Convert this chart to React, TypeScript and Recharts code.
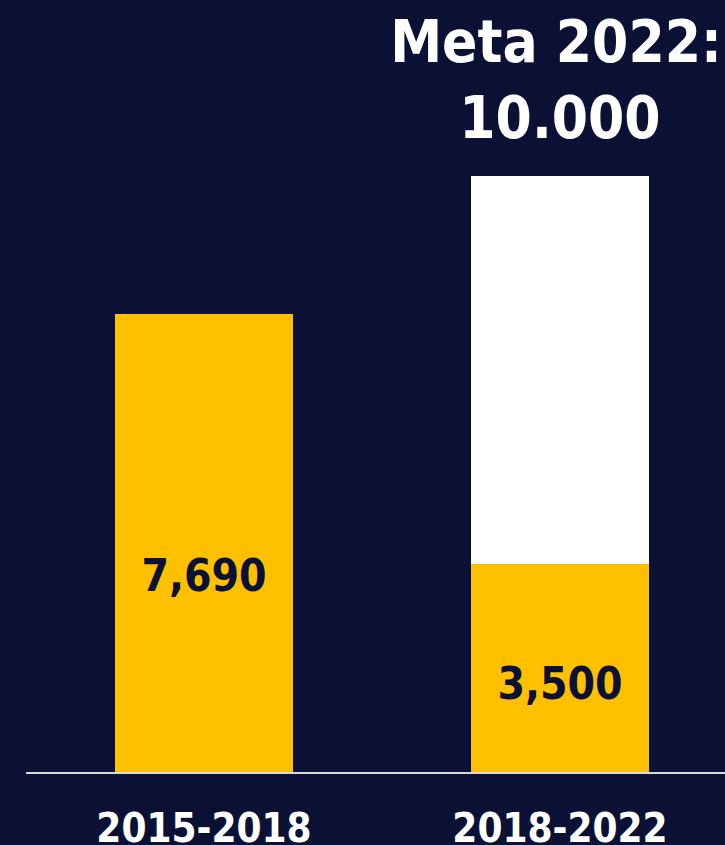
import React from "react";
import { BarChart, Bar, XAxis, YAxis, LabelList } from "recharts";

const categories = ["2015-2018", "2018-2022"];
const achieved = [7690, 3500];
const remaining = [0, 6500];
const goalTitle = ["Meta 2022:", "10.000"];

const BG = "#0a1135";
const YELLOW = "#ffc000";
const FONT = "'DejaVu Sans Condensed', 'DejaVu Sans', sans-serif";

const data = categories.map((c, i) => ({
  period: c,
  achieved: achieved[i],
  remaining: remaining[i],
}));

const fmt = (v: number) => v.toLocaleString("en-US");

// value label sits a bit below the middle of the yellow segment
const ValueLabel = (props: any) => {
  const { x, y, width, height, value } = props;
  if (!value) return null;
  const cy = y + height * 0.57;
  return (
    <text
      x={x + width / 2}
      y={cy}
      textAnchor="middle"
      dominantBaseline="central"
      fill={BG}
      fontFamily={FONT}
      fontWeight="bold"
      fontSize={44}
      style={{ fontStretch: "condensed" }}
    >
      {fmt(value)}
    </text>
  );
};

const GoalLabel = (props: any) => {
  const { x, y, width, value } = props;
  if (!value) return null;
  const cx = x + width / 2 - 4;
  return (
    <text
      textAnchor="middle"
      fill="#ffffff"
      fontFamily={FONT}
      fontWeight="bold"
      fontSize={58}
      style={{ fontStretch: "condensed" }}
    >
      <tspan x={cx} y={y - 114}>{goalTitle[0]}</tspan>
      <tspan x={cx + 4} y={y - 38}>{goalTitle[1]}</tspan>
    </text>
  );
};

export default function App() {
  return (
    <div
      style={{
        position: "absolute",
        left: 0,
        top: 0,
        width: 725,
        height: 845,
        overflow: "hidden",
        background: BG,
      }}
    >
      <BarChart
        width={740}
        height={845}
        data={data}
        margin={{ top: 176, right: 2, left: 26, bottom: 0 }}
        barCategoryGap={0}
      >
        <YAxis hide domain={[0, 10000]} />
        <XAxis
          dataKey="period"
          height={72}
          axisLine={{ stroke: "#d9d9d9", strokeWidth: 2 }}
          tickLine={false}
          tick={{
            fill: "#ffffff",
            fontSize: 40,
            fontWeight: "bold",
            fontFamily: FONT,
            style: { fontStretch: "condensed" },
          }}
          dy={33}
        />
        <Bar
          dataKey="achieved"
          stackId="a"
          fill={YELLOW}
          barSize={178}
          isAnimationActive={false}
        >
          <LabelList dataKey="achieved" content={ValueLabel} />
        </Bar>
        <Bar
          dataKey="remaining"
          stackId="a"
          fill="#ffffff"
          barSize={178}
          isAnimationActive={false}
        >
          <LabelList dataKey="remaining" content={GoalLabel} />
        </Bar>
      </BarChart>
    </div>
  );
}
